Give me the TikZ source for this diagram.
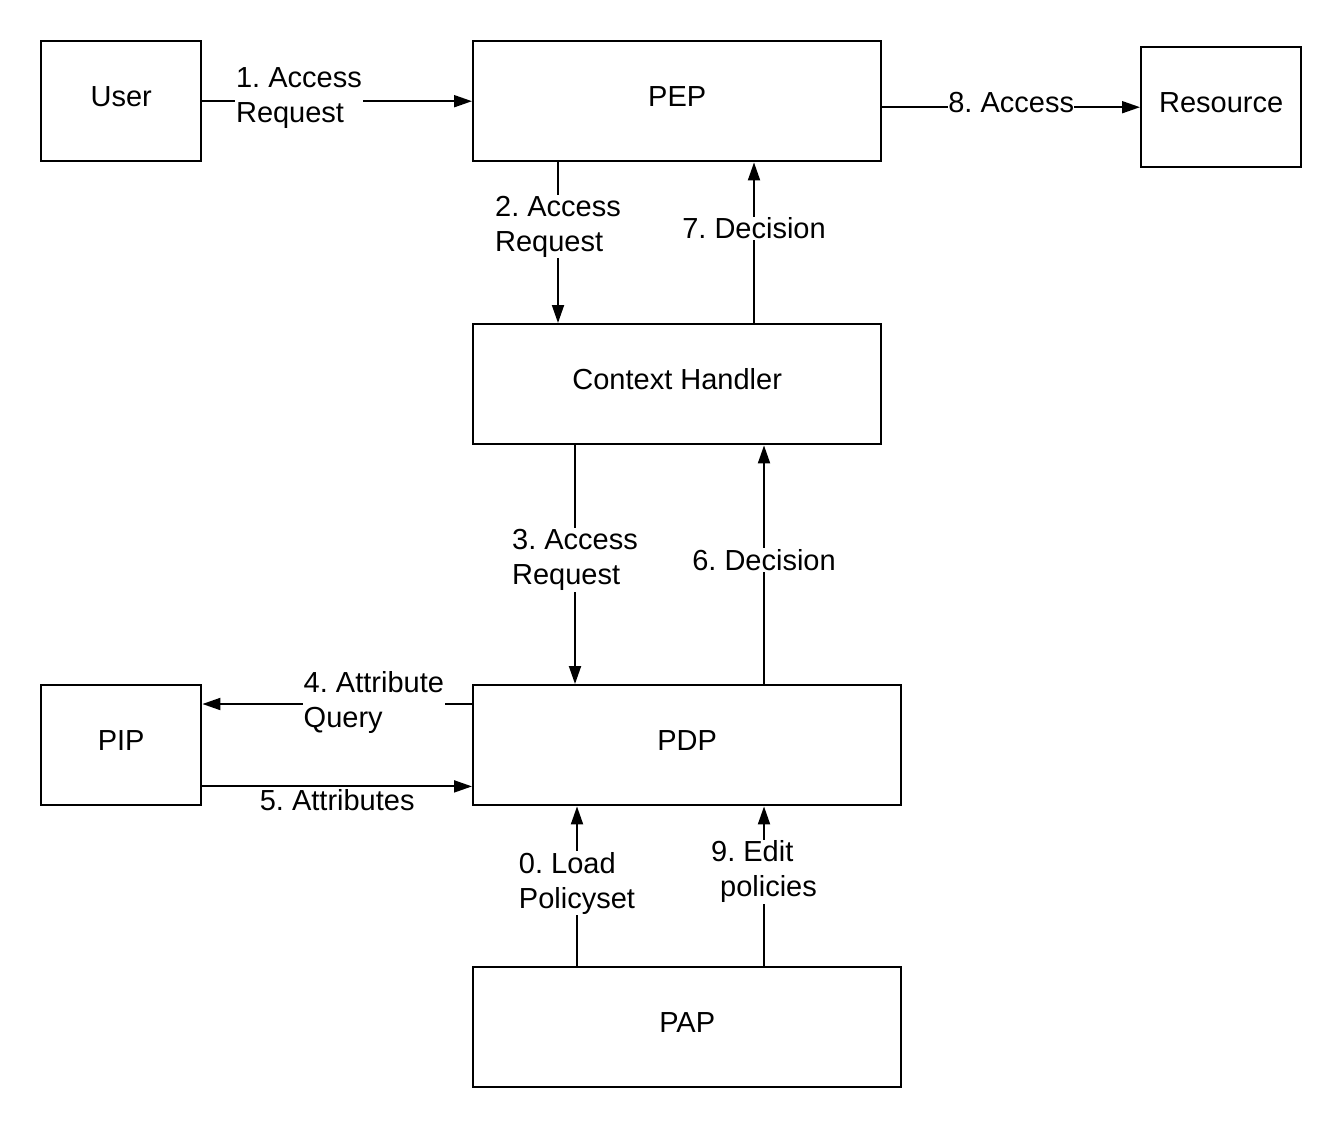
\documentclass[tikz,border=0pt]{standalone}
\usepackage{fontspec}
\setmainfont{Liberation Sans}
\usetikzlibrary{arrows.meta,calc}
\begin{document}
\frenchspacing
\begin{tikzpicture}[x=1pt,y=-1pt,
  every node/.style={font=\fontsize{29}{35}\selectfont},
  box/.style={draw, line width=2.4pt, anchor=north west, inner sep=0pt, minimum width=#1, minimum height=120pt, text height=20pt, text depth=10pt},
  arr/.style={line width=1.9pt, -{Triangle[length=18pt,width=12pt]}},
  lbl/.style={fill=white, inner sep=1pt, align=left},
]
\useasboundingbox[fill=white] (0,0) rectangle (1340,1126);
\node[box=160pt] (user) at (40,40) {User};
\node[box=408pt] (pep) at (472,40) {PEP};
\node[box=160pt] (res) at (1140,46) {Resource};
\node[box=408pt] (ch) at (472,323) {Context Handler};
\node[box=160pt] (pip) at (40,684) {PIP};
\node[box=428pt] (pdp) at (472,684) {PDP};
\node[box=428pt] (pap) at (472,966) {PAP};

% 1
\draw[arr] (user) -- node[lbl, pos=0.358, yshift=3pt] {1. Access\\Request} (pep);
% 8
\draw[arr] (pep.east |- res.west) -- node[lbl, pos=0.5, yshift=5pt, inner sep=0pt] {8. Access} (res.west);
% 2
\draw[arr] ($(pep.south west)+(86,0)$) coordinate (a2) -- node[lbl, pos=0.40] {2. Access\\Request} (a2 |- ch.north);
% 7
\draw[arr] ($(ch.north west)+(282,0)$) coordinate (a7) -- node[lbl, pos=0.59] {7. Decision} (a7 |- pep.south);
% 3
\draw[arr] ($(ch.south west)+(103,0)$) coordinate (a3) -- node[lbl, pos=0.48] {3. Access\\Request} (a3 |- pdp.north);
% 6
\draw[arr] ($(pdp.north west)+(292,0)$) coordinate (a6) -- node[lbl, pos=0.52] {6. Decision} (a6 |- ch.south);
% 4
\draw[arr] ($(pdp.north west)+(0,20)$) coordinate (a4) -- node[lbl, pos=0.364, yshift=2pt] {4. Attribute\\Query} (a4 -| pip.east);
% 5
\draw[arr] ($(pip.south east)+(0,-20)$) coordinate (a5) -- node[below, pos=0.5, inner sep=2pt] {5. Attributes} (a5 -| pdp.west);
% 0
\draw[arr] ($(pap.north west)+(105,0)$) coordinate (a0) -- node[lbl, pos=0.52] {0. Load\\Policyset} (a0 |- pdp.south);
% 9
\draw[arr] ($(pap.north west)+(292,0)$) coordinate (a9) -- node[lbl, pos=0.59] {9. Edit\\\hspace*{9pt}policies} (a9 |- pdp.south);
\end{tikzpicture}
\end{document}
